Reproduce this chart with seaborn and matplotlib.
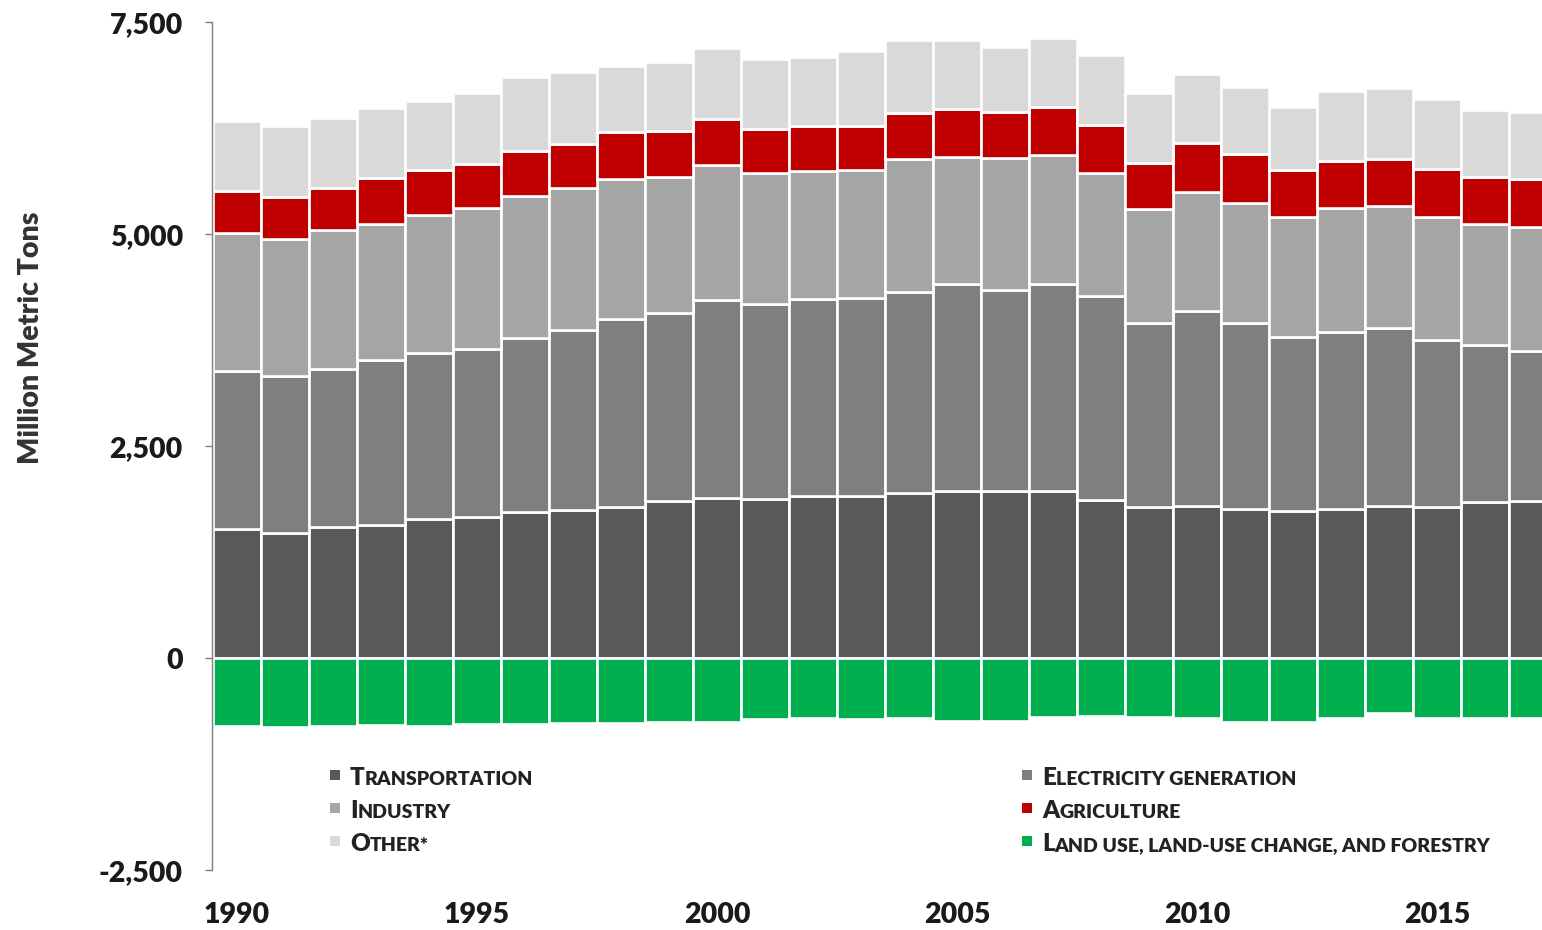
import numpy as np
import pandas as pd
import matplotlib
matplotlib.use("Agg")
import matplotlib.pyplot as plt
from matplotlib.patches import Rectangle
import seaborn as sns

# U.S. greenhouse gas emissions and sinks by economic sector (million metric tons CO2e)
years = list(range(1990, 2018))
transportation = [1524, 1481, 1544, 1572, 1639, 1670, 1721, 1748, 1780, 1858,
                  1890, 1875, 1913, 1913, 1945, 1976, 1976, 1976, 1870, 1780,
                  1796, 1757, 1737, 1760, 1796, 1787, 1839, 1855]
electricity = [1863, 1847, 1863, 1945, 1957, 1973, 2052, 2123, 2217, 2217,
               2334, 2299, 2320, 2331, 2370, 2433, 2366, 2433, 2398, 2177,
               2299, 2200, 2055, 2091, 2095, 1966, 1855, 1772]
industry = [1624, 1612, 1643, 1600, 1631, 1663, 1678, 1678, 1650, 1603,
            1592, 1544, 1512, 1513, 1572, 1498, 1560, 1525, 1450, 1337,
            1406, 1415, 1415, 1455, 1445, 1446, 1426, 1462]
agriculture = [502, 495, 498, 542, 530, 522, 530, 515, 555, 542,
               540, 522, 534, 519, 539, 566, 542, 569, 570, 549,
               571, 570, 550, 561, 547, 570, 558, 558]
other = [822, 841, 822, 833, 817, 840, 876, 852, 785, 807,
         839, 822, 814, 884, 864, 817, 767, 814, 829, 825,
         817, 790, 739, 822, 837, 825, 787, 797]
land_use = [-798, -814, -798, -786, -798, -778, -778, -759, -759, -747,
            -750, -719, -707, -716, -707, -736, -736, -689, -685, -689,
            -700, -747, -747, -700, -648, -700, -700, -700]

sector_names = ["Transportation", "Electricity generation", "Industry",
                "Agriculture", "Other*", "Land use, land-use change, and forestry"]
tick_years = [1990, 1995, 2000, 2005, 2010, 2015]
y_ticks = [-2500, 0, 2500, 5000, 7500]

colors = {
    "Transportation": "#595959",
    "Electricity generation": "#7f7f7f",
    "Industry": "#a5a5a5",
    "Agriculture": "#c00000",
    "Other*": "#d9d9d9",
    "Land use, land-use change, and forestry": "#00b050",
}

df = pd.DataFrame({
    "year": years,
    "Transportation": transportation,
    "Electricity generation": electricity,
    "Industry": industry,
    "Agriculture": agriculture,
    "Other*": other,
    "Land use, land-use change, and forestry": land_use,
})

sns.set_theme(style="white")
plt.rcParams["font.family"] = ["Lato", "DejaVu Sans"]
plt.rcParams["font.weight"] = "heavy"
WEIGHT = "heavy"

W, H = 1542, 930
fig = plt.figure(figsize=(W / 100, H / 100), dpi=100)
ax = fig.add_axes([212 / W, 59.7 / H, 1 - 212 / W, (907.7 - 59.7) / H])

bar_kws = dict(width=1.0, edgecolor="white", linewidth=1.9, saturation=1, ax=ax)

# positive sectors stacked from zero upwards
bottom = np.zeros(len(df))
for name in sector_names[:5]:
    sns.barplot(data=df, x="year", y=name, bottom=bottom.copy(),
                color=colors[name], **bar_kws)
    bottom += df[name].to_numpy()

# carbon sink below zero
sink = sector_names[5]
sns.barplot(data=df, x="year", y=sink, color=colors[sink], **bar_kws)

ax.set_ylim(-2500, 7500)
ax.set_xlim(-0.52, 27.19)
ax.set_xlabel("")
ax.set_ylabel("")

year_pos = [years.index(y) for y in tick_years]
ax.set_xticks(year_pos)
ax.set_xticklabels([str(y) for y in tick_years])
ax.set_yticks(y_ticks)
ax.set_yticklabels([f"{v:,}" for v in y_ticks])

ax.tick_params(axis="x", length=0, pad=23, labelsize=20.5, labelcolor="#1a1a1a")
ax.tick_params(axis="y", left=True, length=5, width=1, color="#7f7f7f",
               pad=16, labelsize=20.5, labelcolor="#1a1a1a")
for lab in ax.get_xticklabels() + ax.get_yticklabels():
    lab.set_fontweight(WEIGHT)

for side in ["top", "right", "bottom"]:
    ax.spines[side].set_visible(False)
ax.spines["left"].set_color("#7f7f7f")
ax.spines["left"].set_linewidth(1.0)

fig.text(31 / W, 1 - 338 / H, "Million Metric Tons", rotation=90,
         ha="center", va="center", fontsize=20.5, fontweight=WEIGHT, color="#333333")


def small_caps(x_px, y_px, label, big=17.5, small=14, color="#222222"):
    """Draw a label in small caps as a chain of text runs sharing one baseline."""
    runs = []
    for ch in label:
        up = ch.isupper()
        if runs and runs[-1][1] == up:
            runs[-1][0] += ch
        else:
            runs.append([ch, up])
    y = 1 - y_px / H
    prev = None
    for text, up in runs:
        size = big if up else small
        if prev is None:
            prev = ax.annotate(text.upper(), xy=(x_px / W, y), xycoords="figure fraction",
                               ha="left", va="baseline", fontsize=size, fontweight=WEIGHT,
                               color=color, annotation_clip=False)
        else:
            prev = ax.annotate(text.upper(), xy=(1, y), xycoords=(prev, "figure fraction"),
                               ha="left", va="baseline", fontsize=size, fontweight=WEIGHT,
                               color=color, annotation_clip=False)


legend_layout = [
    ("Transportation", 330, 350, 785),
    ("Industry", 330, 350, 818),
    ("Other*", 330, 350, 851),
    ("Electricity generation", 1022, 1042, 785),
    ("Agriculture", 1022, 1042, 818),
    ("Land use, land-use change, and forestry", 1022, 1042, 851),
]
for name, sq_x, txt_x, base in legend_layout:
    sq = 10
    fig.add_artist(Rectangle((sq_x / W, 1 - (base - 5) / H), sq / W, sq / H,
                             transform=fig.transFigure, facecolor=colors[name],
                             edgecolor="none"))
    small_caps(txt_x, base, name)

fig.savefig("out.png", dpi=100, facecolor="white")
